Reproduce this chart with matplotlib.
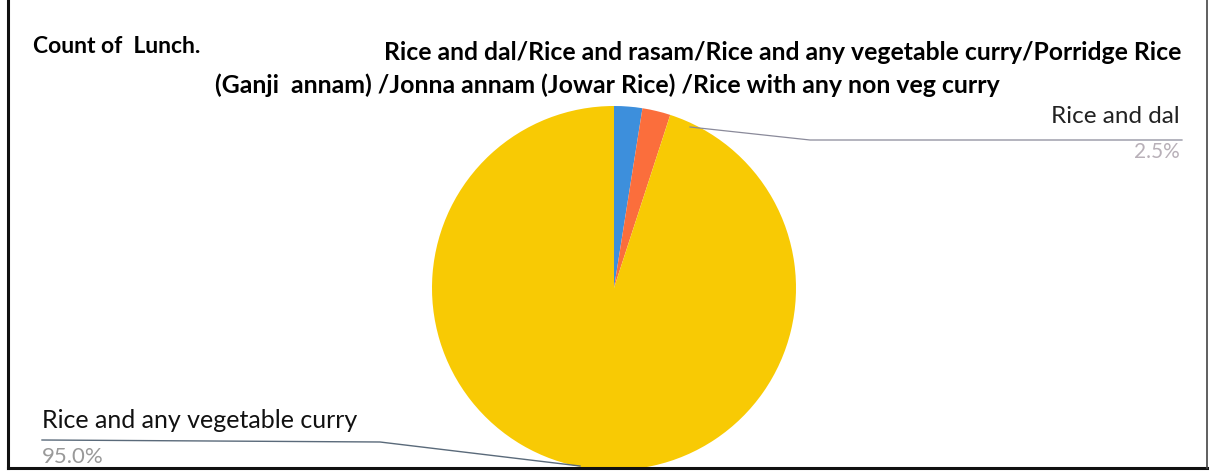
import matplotlib
matplotlib.use("Agg")
import matplotlib.pyplot as plt

# slice data (clockwise from 12 o'clock)
slice_names = ["Rice and dal", "Rice and rasam", "Rice and any vegetable curry"]
slice_share = [2.5, 2.5, 95.0]
slice_colors = ["#3d8fdc", "#fb6e3c", "#f8ca04"]

chart_label = "Count of  Lunch."
title_lines = ["Rice and dal/Rice and rasam/Rice and any vegetable curry/Porridge Rice",
               "(Ganji  annam) /Jonna annam (Jowar Rice) /Rice with any non veg curry"]

W, H = 1215, 474
plt.rcParams['font.family'] = ['Lato', 'DejaVu Sans']

fig = plt.figure(figsize=(W / 100, H / 100), dpi=100)
ax = fig.add_axes([0, 0, 1, 1])


def Y(y):
    # pixel row -> data y
    return H - y


ax.pie(slice_share, colors=slice_colors, startangle=90, counterclock=False,
       center=(614, Y(288)), radius=182, frame=True,
       wedgeprops=dict(linewidth=0))
ax.set_xlim(0, W)
ax.set_ylim(0, H)
ax.set_aspect('equal')
ax.axis('off')

# page frame
ax.plot([8, 8], [Y(0), Y(468)], color='#111111', lw=2.2)
ax.plot([8, 1207], [Y(468), Y(468)], color='#111111', lw=2.2)
ax.plot([1207, 1207], [Y(0), Y(468)], color='#444444', lw=1.2)

ax.text(33, Y(46), chart_label, fontsize=16.5, fontweight='bold', va='center', ha='left')
ax.text(1181, Y(52), title_lines[0], fontsize=17.8, fontweight='bold', va='center', ha='right')
ax.text(215, Y(85), title_lines[1], fontsize=17.9, fontweight='bold', va='center', ha='left')

# labels with leader lines
ax.text(1180, Y(116), slice_names[0], fontsize=17.5, va='center', ha='right', color='#222222')
ax.text(1180, Y(152), f"{slice_share[0]:.1f}%", fontsize=15, va='center', ha='right', color='#b8b0b8')
ax.plot([690, 810, 1182], [Y(127), Y(140), Y(140)], color='#8a8a9a', lw=0.9)

ax.text(42, Y(420), slice_names[2], fontsize=18, va='center', ha='left', color='#111111')
ax.text(42, Y(457), f"{slice_share[2]:.1f}%", fontsize=16, va='center', ha='left', color='#999999')
ax.plot([42, 380, 580], [Y(440), Y(442), Y(466)], color='#5a6a7a', lw=1.0)

fig.savefig("out.png", dpi=100, facecolor='white')
